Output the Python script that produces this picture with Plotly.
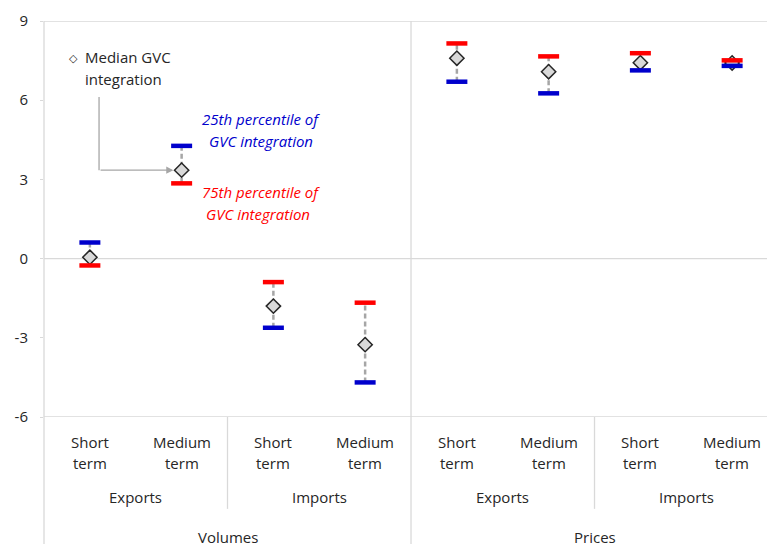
import plotly.graph_objects as go

# Categories (three-level axis: horizon / flow / measure)
horizons = ["Short<br>term", "Medium<br>term"] * 4
flows = ["Exports", "Imports", "Exports", "Imports"]
measures = ["Volumes", "Prices"]

# Responses by degree of GVC integration
p25 = [0.61, 4.27, -2.62, -4.69, 6.70, 6.26, 7.13, 7.30]   # 25th percentile (blue)
p75 = [-0.26, 2.85, -0.89, -1.67, 8.15, 7.66, 7.78, 7.51]  # 75th percentile (red)
median = [0.05, 3.35, -1.80, -3.26, 7.59, 7.08, 7.42, 7.41]

y_ticks = [-6, -3, 0, 3, 6, 9]

FONT = "Open Sans"
GRID = "#d9d9d9"
BLUE = "#0000CC"
RED = "#FF0000"

x = list(range(len(median)))

fig = go.Figure()

# dashed connectors between the two percentiles
cx, cy = [], []
for i in x:
    cx += [i, i, None]
    cy += [p25[i], p75[i], None]
fig.add_trace(go.Scatter(x=cx, y=cy, mode="lines",
                         line=dict(color="#a6a6a6", width=2.5, dash="5px,3px"),
                         hoverinfo="skip", showlegend=False))

# median markers
fig.add_trace(go.Scatter(x=x, y=median, mode="markers", name="Median GVC integration",
                         marker=dict(symbol="diamond", size=11, color="#d9d9d9",
                                     line=dict(color="#262626", width=1.5)),
                         showlegend=False))

# percentile bars
fig.add_trace(go.Scatter(x=x, y=p75, mode="markers", name="75th percentile",
                         marker=dict(symbol="line-ew", size=15,
                                     line=dict(color=RED, width=4.5)),
                         showlegend=False))
fig.add_trace(go.Scatter(x=x, y=p25, mode="markers", name="25th percentile",
                         marker=dict(symbol="line-ew", size=15,
                                     line=dict(color=BLUE, width=4.5)),
                         showlegend=False))

shapes = []
# frame: top, bottom and zero lines
for yv in (9, -6, 0):
    shapes.append(dict(type="line", xref="paper", yref="y", x0=0, x1=1, y0=yv, y1=yv,
                       line=dict(color=GRID, width=1.3), layer="below"))
# left axis line running through the label area
shapes.append(dict(type="line", xref="paper", yref="paper", x0=0, x1=0, y0=-0.33, y1=1,
                   line=dict(color=GRID, width=1.3), layer="below"))
# measure separator (full height)
shapes.append(dict(type="line", xref="x", yref="paper", x0=3.5, x1=3.5, y0=-0.33, y1=1,
                   line=dict(color=GRID, width=1.3), layer="below"))
# flow separators (label area only)
for xs in (1.5, 5.5):
    shapes.append(dict(type="line", xref="x", yref="paper", x0=xs, x1=xs, y0=-0.232, y1=0,
                       line=dict(color=GRID, width=1.3), layer="below"))
# pointer from the median key down to the marker
arrow_x0 = 0.1
arrow_y0 = 6.12
shapes.append(dict(type="line", xref="x", yref="y", x0=arrow_x0, x1=arrow_x0,
                   y0=arrow_y0, y1=median[1], line=dict(color="#a6a6a6", width=1.3)))

annotations = []
# category axis labels
def px_to_paper(py):
    return (417 - py) / 396

label_font = dict(family=FONT, size=15, color="#262626")
for i, h in enumerate(horizons):
    top, bottom = h.split("<br>")
    annotations.append(dict(x=i, y=px_to_paper(442), xref="x", yref="paper", text=top,
                            yanchor="middle", showarrow=False, font=label_font))
    annotations.append(dict(x=i, y=px_to_paper(463), xref="x", yref="paper", text=bottom,
                            yanchor="middle", showarrow=False, font=label_font))
for j, f in enumerate(flows):
    annotations.append(dict(x=2 * j + 0.5, y=px_to_paper(497), xref="x", yref="paper", text=f,
                            yanchor="middle", showarrow=False, font=label_font))
for k, m in enumerate(measures):
    annotations.append(dict(x=4 * k + 1.5, y=px_to_paper(537), xref="x", yref="paper", text=m,
                            yanchor="middle", showarrow=False, font=label_font))

# median key
annotations.append(dict(x=-0.18, y=7.57, xref="x", yref="y", text="◇", showarrow=False,
                        font=dict(family="DejaVu Sans", size=11, color="#262626")))
annotations.append(dict(x=-0.08, y=7.62, xref="x", yref="y", text="Median GVC", xanchor="left",
                        showarrow=False, font=label_font))
annotations.append(dict(x=-0.08, y=6.82, xref="x", yref="y", text="integration", xanchor="left",
                        showarrow=False, font=label_font))
# arrow into the marker
annotations.append(dict(x=1 - 0.09, y=median[1], ax=arrow_x0, ay=median[1],
                        xref="x", yref="y", axref="x", ayref="y", text="",
                        showarrow=True, arrowhead=2, arrowsize=1.1, arrowwidth=1.3,
                        arrowcolor="#a6a6a6"))
# percentile notes
annotations.append(dict(x=1.87, y=5.28, xref="x", yref="y", text="<i>25th percentile of</i>",
                        showarrow=False, font=dict(family=FONT, size=15, color=BLUE)))
annotations.append(dict(x=1.86, y=4.45, xref="x", yref="y", text="<i>GVC integration</i>",
                        showarrow=False, font=dict(family=FONT, size=15, color=BLUE)))
annotations.append(dict(x=1.86, y=2.52, xref="x", yref="y", text="<i>75th percentile of</i>",
                        showarrow=False, font=dict(family=FONT, size=15, color=RED)))
annotations.append(dict(x=1.83, y=1.69, xref="x", yref="y", text="<i>GVC integration</i>",
                        showarrow=False, font=dict(family=FONT, size=15, color=RED)))

fig.update_layout(
    width=767, height=544,
    margin=dict(l=44, r=0, t=21, b=127),
    paper_bgcolor="white", plot_bgcolor="white",
    showlegend=False,
    shapes=shapes,
    annotations=annotations,
    xaxis=dict(range=[-0.5, 7.38], showgrid=False, zeroline=False, showticklabels=False,
               showline=False, fixedrange=True),
    yaxis=dict(range=[-6, 9], tickvals=y_ticks, ticktext=[str(v) for v in y_ticks],
               showgrid=False, zeroline=False, showline=False,
               ticks="outside", ticklen=3, tickcolor=GRID, ticklabelstandoff=9,
               tickfont=dict(family=FONT, size=15, color="#262626"), fixedrange=True),
)

fig.write_html("out.html")
